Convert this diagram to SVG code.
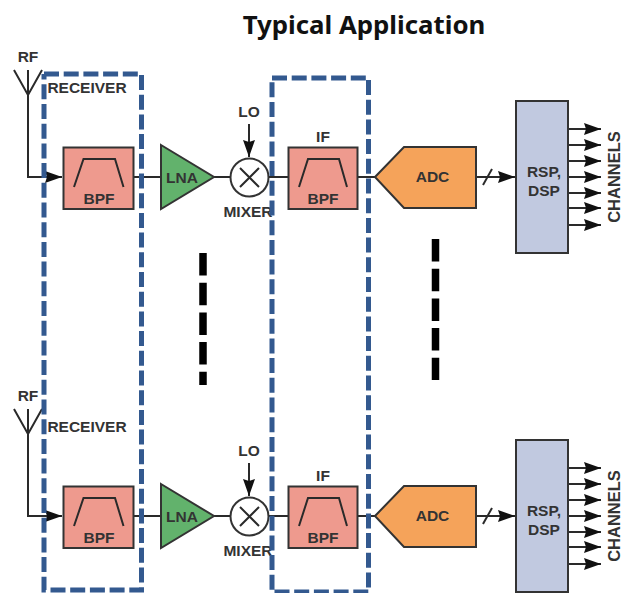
<svg xmlns="http://www.w3.org/2000/svg" width="623" height="593" viewBox="0 0 623 593">
<style>
text{font-family:"Liberation Sans",Arial,sans-serif;font-weight:700;font-size:15.5px;fill:#333;text-anchor:middle}
.t{font-family:"Noto Sans",sans-serif;font-size:25.8px;fill:#111;font-weight:700}
.c{font-size:16.5px}
.w{fill:none;stroke:#2a2a2a;stroke-width:2}
.box{stroke:#333;stroke-width:2}
.d{fill:none;stroke:#33598f;stroke-width:5;stroke-dasharray:15 4.7}
.k{fill:none;stroke:#000;stroke-width:7.5;stroke-dasharray:22.5 7.2}
.bpf{fill:#ee9a8e}
.lna{fill:#62b26c}
.adc{fill:#f5a35a}
.rsp{fill:#c1c9e0}
</style>
<defs>
<marker id="a" markerUnits="userSpaceOnUse" markerWidth="18" markerHeight="14" refX="17" refY="7" orient="auto"><path d="M0 1L17 7L0 13L2 7Z" fill="#111"/></marker>
</defs>
<text class="t" x="364" y="34">Typical Application</text>
<g id="connectors">
<path class="w" d="M14 70L28 95L42 70M28 70V177H62" marker-end="url(#a)"/>
<path class="w" d="M134 177H161M214 177H231M269 177H288M358 177H375"/>
<path class="w" d="M249 124V157" marker-end="url(#a)"/>
<path class="w" d="M476 177H515" marker-end="url(#a)"/>
<path class="w" d="M483 185L492 169"/>
<path class="w" marker-end="url(#a)" d="M568 129H601"/><path class="w" marker-end="url(#a)" d="M568 145H601"/><path class="w" marker-end="url(#a)" d="M568 161H601"/><path class="w" marker-end="url(#a)" d="M568 177H601"/><path class="w" marker-end="url(#a)" d="M568 193H601"/><path class="w" marker-end="url(#a)" d="M568 208H601"/><path class="w" marker-end="url(#a)" d="M568 225H601"/>
<path class="w" d="M14 409L28 434L42 409M28 409V516H62" marker-end="url(#a)"/>
<path class="w" d="M134 516H161M214 516H231M269 516H288M358 516H375"/>
<path class="w" d="M249 463V496" marker-end="url(#a)"/>
<path class="w" d="M476 516H515" marker-end="url(#a)"/>
<path class="w" d="M483 524L492 508"/>
<path class="w" marker-end="url(#a)" d="M568 468H601"/><path class="w" marker-end="url(#a)" d="M568 484H601"/><path class="w" marker-end="url(#a)" d="M568 500H601"/><path class="w" marker-end="url(#a)" d="M568 516H601"/><path class="w" marker-end="url(#a)" d="M568 532H601"/><path class="w" marker-end="url(#a)" d="M568 547H601"/><path class="w" marker-end="url(#a)" d="M568 564H601"/>
</g>
<g id="rf1"><text x="28" y="62">RF</text></g>
<g id="receiver-label1"><text x="87" y="93">RECEIVER</text></g>
<g id="bpf1"><rect class="box bpf" x="63.5" y="147.5" width="70" height="61.5"/><path class="w" d="M74 187L83.500 159H115L123.500 187"/><text x="99" y="204">BPF</text></g>
<g id="lna1"><path class="box lna" d="M161 145L214 177L161 209Z"/><text x="182" y="183">LNA</text></g>
<g id="mixer1"><circle cx="249.500" cy="177.500" r="19" fill="#fff" stroke="#333" stroke-width="2"/><path class="w" d="M240 168L259 187M259 168L240 187"/><text x="249" y="117">LO</text><text x="248" y="217">MIXER</text></g>
<g id="if1"><text x="323" y="142">IF</text><rect class="box bpf" x="288.500" y="147.500" width="69" height="61.500"/><path class="w" d="M299 187L308 159H339L347 187"/><text x="323" y="204">BPF</text></g>
<g id="adc1"><path class="box adc" d="M375 177L404 147H476V208H404Z"/><text x="432.500" y="182">ADC</text></g>
<g id="rsp1"><rect class="box rsp" x="516" y="101" width="52" height="152"/><text x="544" y="177">RSP,</text><text x="544" y="196">DSP</text></g>
<g id="channels1"><text class="c" transform="translate(620 177) rotate(-90)">CHANNELS</text></g>
<g id="rf2"><text x="28" y="401">RF</text></g>
<g id="receiver-label2"><text x="87" y="432">RECEIVER</text></g>
<g id="bpf2"><rect class="box bpf" x="63.5" y="486.5" width="70" height="61.500"/><path class="w" d="M74 526L83.500 498H115L123.500 526"/><text x="99" y="543">BPF</text></g>
<g id="lna2"><path class="box lna" d="M161 484L214 516L161 548Z"/><text x="182" y="522">LNA</text></g>
<g id="mixer2"><circle cx="249.500" cy="516.500" r="19" fill="#fff" stroke="#333" stroke-width="2"/><path class="w" d="M240 507L259 526M259 507L240 526"/><text x="249" y="456">LO</text><text x="248" y="556">MIXER</text></g>
<g id="if2"><text x="323" y="481">IF</text><rect class="box bpf" x="288.500" y="486.500" width="69" height="61.500"/><path class="w" d="M299 526L308 498H339L347 526"/><text x="323" y="543">BPF</text></g>
<g id="adc2"><path class="box adc" d="M375 516L404 486H476V547H404Z"/><text x="432.500" y="521">ADC</text></g>
<g id="rsp2"><rect class="box rsp" x="516" y="440" width="52" height="152"/><text x="544" y="516">RSP,</text><text x="544" y="535">DSP</text></g>
<g id="channels2"><text class="c" transform="translate(620 516) rotate(-90)">CHANNELS</text></g>
<g id="receiver-box"><path class="d" d="M44 74H141.500V590H44V74"/></g>
<g id="if-box"><path class="d" d="M272 78H368.500V592H272V78"/></g>
<g id="ellipsis"><path class="k" d="M203 253V385"/><path class="k" d="M435.500 239V380"/></g>
</svg>
